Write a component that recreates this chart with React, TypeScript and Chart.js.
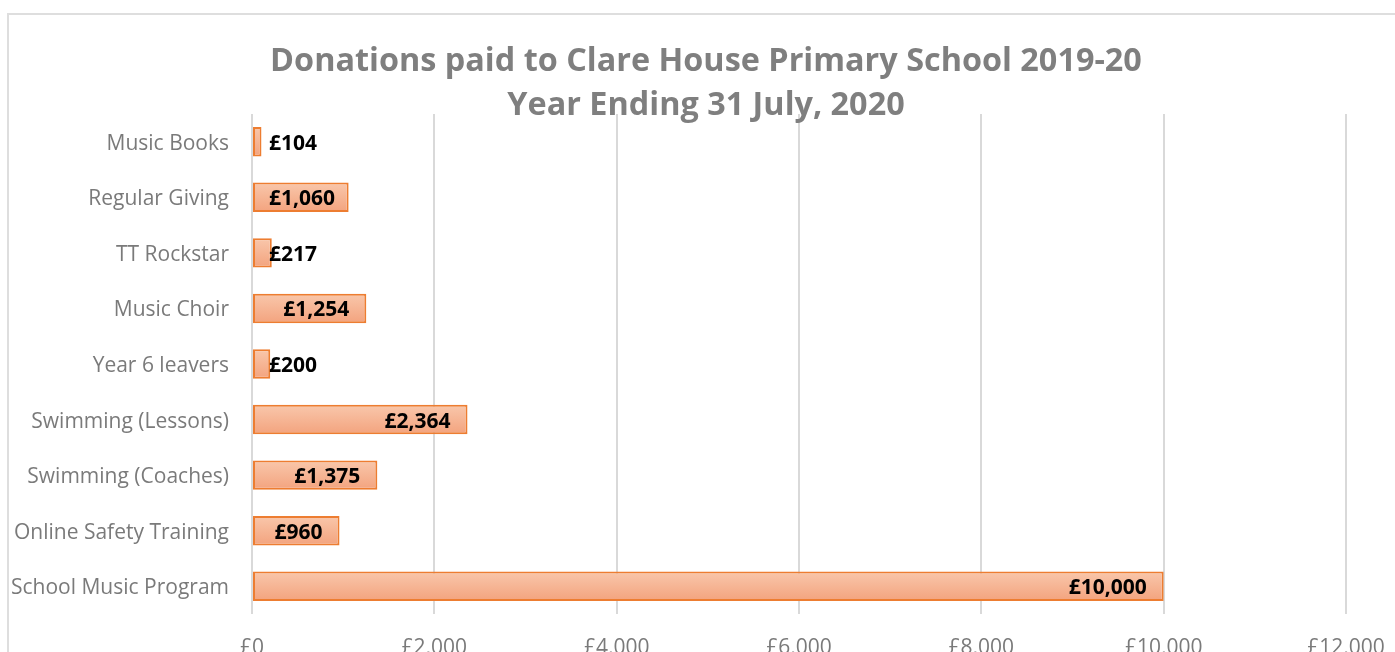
import React, { useEffect, useRef } from "react";
import { Chart, registerables } from "chart.js";

Chart.register(...registerables);

const categories = [
  "Music Books",
  "Regular Giving",
  "TT Rockstar",
  "Music Choir",
  "Year 6 leavers",
  "Swimming (Lessons)",
  "Swimming (Coaches)",
  "Online Safety Training",
  "School Music Program",
];
const donations = [104, 1060, 217, 1254, 200, 2364, 1375, 960, 10000];
const titleLines = [
  "Donations paid to Clare House Primary School 2019-20",
  "Year Ending 31 July, 2020",
];
const xMin = 0;
const xMax = 12000;
const xStep = 2000;

const fmt = (v: number) => "£" + Number(v).toLocaleString("en-GB");

const FONT = "'Open Sans', sans-serif";

const titlePlugin = {
  id: "customTitle",
  afterDraw(chart: any) {
    const ctx = chart.ctx;
    ctx.save();
    ctx.fillStyle = "#7f7f7f";
    ctx.font = `bold 32.4px ${FONT}`;
    ctx.textAlign = "center";
    ctx.textBaseline = "alphabetic";
    ctx.fillText(titleLines[0], 706, 71);
    ctx.fillText(titleLines[1], 706, 115);
    ctx.restore();
  },
};

const gradientPlugin = {
  id: "barGradient",
  beforeDatasetsDraw(chart: any) {
    const ctx = chart.ctx;
    const meta = chart.getDatasetMeta(0);
    meta.data.forEach((bar: any) => {
      const half = bar.height / 2;
      if (!isFinite(bar.y) || !isFinite(half)) return;
      const g = ctx.createLinearGradient(0, bar.y - half, 0, bar.y + half);
      g.addColorStop(0, "#f9c7ab");
      g.addColorStop(1, "#f3a37e");
      bar.options = Object.assign({}, bar.options, { backgroundColor: g });
    });
  },
};

const labelPlugin = {
  id: "barLabels",
  afterDatasetsDraw(chart: any) {
    const ctx = chart.ctx;
    const meta = chart.getDatasetMeta(0);
    const data = chart.data.datasets[0].data;
    ctx.save();
    ctx.font = `bold 21px ${FONT}`;
    ctx.fillStyle = "#000000";
    ctx.textAlign = "left";
    ctx.textBaseline = "middle";
    meta.data.forEach((bar: any, i: number) => {
      const text = fmt(data[i]);
      const w = ctx.measureText(text).width;
      const base = bar.base;
      let x = bar.x - 17 - w;
      if (x < base + 16) x = base + 16;
      ctx.fillText(text, x, bar.y + 2);
    });
    ctx.restore();
  },
};

export default function App() {
  const ref = useRef<HTMLCanvasElement | null>(null);

  useEffect(() => {
    if (!ref.current) return;
    const chart = new Chart(ref.current, {
      type: "bar",
      data: {
        labels: categories,
        datasets: [
          {
            data: donations,
            backgroundColor: "#f5b290",
            borderColor: "#ed7d31",
            borderWidth: 2,
            borderSkipped: false,
            barPercentage: 0.53,
            categoryPercentage: 1,
          },
        ],
      },
      options: {
        indexAxis: "y",
        responsive: false,
        animation: false,
        events: [],
        layout: { padding: { top: 114, left: 0, right: 49, bottom: 26 } },
        plugins: {
          legend: { display: false },
          title: { display: false },
          tooltip: { enabled: false },
        },
        scales: {
          x: {
            min: xMin,
            max: xMax,
            ticks: {
              stepSize: xStep,
              callback: (v: any) => fmt(v),
              font: { family: FONT, size: 21 },
              color: "#7a7a7a",
              padding: 21,
              maxRotation: 0,
            },
            grid: { color: "#d9d9d9", lineWidth: 2, drawTicks: false },
            border: { display: false },
            afterFit: (s: any) => {
              s.height = 60;
              s.paddingLeft = 0;
              s.paddingRight = 0;
            },
          },
          y: {
            ticks: {
              font: { family: FONT, size: 21 },
              color: "#7a7a7a",
              padding: 15,
              labelOffset: 2,
            },
            grid: { display: false },
            border: { display: false },
            afterFit: (s: any) => {
              s.width = 252;
              s.paddingTop = 0;
              s.paddingBottom = 0;
            },
          },
        },
      },
      plugins: [gradientPlugin, titlePlugin, labelPlugin],
    });
    return () => chart.destroy();
  }, []);

  return (
    <div>
      <div
        style={{
          position: "fixed",
          left: 7,
          top: 13,
          width: 1500,
          height: 800,
          border: "2px solid #dedede",
          background: "#ffffff",
        }}
      />
      <canvas
        ref={ref}
        width={1395}
        height={700}
        style={{ position: "fixed", left: 0, top: 0, width: 1395, height: 700, display: "block" }}
      />
    </div>
  );
}
